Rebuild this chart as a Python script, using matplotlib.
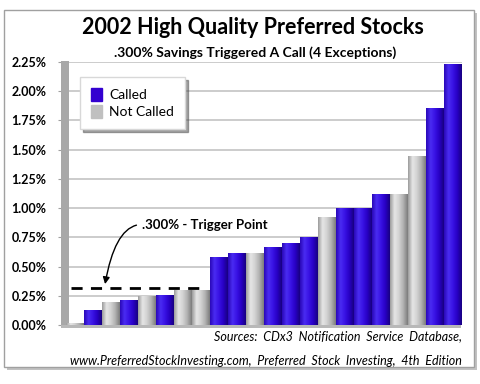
import matplotlib
matplotlib.use('Agg')
import matplotlib.pyplot as plt
import numpy as np
from matplotlib.patches import Rectangle, Patch
from matplotlib.colors import LinearSegmentedColormap

# values (percent savings), sorted as shown
savings = [0.02, 0.13, 0.20, 0.21, 0.25, 0.26, 0.30, 0.30, 0.58, 0.62, 0.62,
           0.67, 0.70, 0.75, 0.92, 1.00, 1.00, 1.12, 1.12, 1.45, 1.86, 2.23]
called = [False, True, False, True, False, True, False, False, True, True, False,
          True, True, True, False, True, True, True, False, False, True, True]
trigger = 0.32
yticks = [0.0, 0.25, 0.5, 0.75, 1.0, 1.25, 1.5, 1.75, 2.0, 2.25]

plt.rcParams['font.family'] = ['Lato', 'DejaVu Sans']

W, H = 480, 384
fig = plt.figure(figsize=(4.8, 3.84), dpi=100)
fig.patch.set_facecolor('white')

# outer frame with a soft shadow
fig.patches.append(Rectangle((7 / W, 14 / H), 470 / W, 357 / H, transform=fig.transFigure,
                             facecolor='#9a9a9a', edgecolor='none', alpha=0.6, zorder=-3))
fig.patches.append(Rectangle((4 / W, 17 / H), 470 / W, 357 / H, transform=fig.transFigure,
                             facecolor='white', edgecolor='#a0a0a0', lw=1, zorder=-2))

ax = fig.add_axes([66 / W, 59 / H, 396 / W, 263 / H])
ax.set_facecolor('none')

blue_cm = LinearSegmentedColormap.from_list('b', ['#2a08b8', '#4a2cf2', '#3812e4', '#2800c4', '#180080'])
gray_cm = LinearSegmentedColormap.from_list('g', ['#9c9c9c', '#e6e6e6', '#d2d2d2', '#b0b0b0', '#7c7c7c'])
grad = np.linspace(0, 1, 64).reshape(1, -1)

x = np.arange(len(savings))
bars = ax.bar(x, savings, width=1.0, color='none', edgecolor='none', zorder=2)
for rect, c in zip(bars, called):
    x0, w, h = rect.get_x(), rect.get_width(), rect.get_height()
    im = ax.imshow(grad, extent=[x0, x0 + w, 0, h], aspect='auto',
                   cmap=blue_cm if c else gray_cm, zorder=2, interpolation='bilinear')
    im.set_clip_path(rect)

ax.set_xlim(-0.5, len(savings) - 0.5)
ax.set_ylim(0, 2.25)

# trigger line
ax.plot([-0.2, 7.3], [trigger, trigger], color='black', lw=2, dashes=(4, 3), zorder=3)
ax.annotate('.300% - Trigger Point', xy=(1.67, 0.35), xytext=(3.72, 0.855),
            fontsize=9.5, fontweight='bold', ha='left', va='center',
            arrowprops=dict(arrowstyle='-|>', color='black', lw=1, mutation_scale=10,
                            connectionstyle='angle3,angleA=0,angleB=80',
                            relpos=(0, 0.55), shrinkA=2, shrinkB=0))

ax.set_yticks(yticks)
ax.set_yticklabels(['%.2f%%' % v for v in yticks], fontsize=9, fontweight='bold')
ax.set_xticks([])
ax.tick_params(axis='y', length=6, color='#a0a0a0', pad=8)
ax.grid(axis='y', color='#c4c4c4', lw=1.2, zorder=0)
ax.set_axisbelow(True)
for s in ax.spines.values():
    s.set_visible(False)

# left wall and floor of the 3-D look
ax.add_patch(Rectangle((-0.012, -0.01), 0.02, 1.015, transform=ax.transAxes,
                       facecolor='#a8a8a8', edgecolor='none', clip_on=False, zorder=1))
ax.add_patch(Rectangle((-0.012, -0.012), 1.01, 0.012, transform=ax.transAxes,
                       facecolor='#b8b8b8', edgecolor='none', clip_on=False, zorder=1))

leg = ax.legend(handles=[Patch(facecolor='#3300d0', edgecolor='#3300d0', label='Called'),
                         Patch(facecolor='#c0c0c0', edgecolor='#c0c0c0', label='Not Called')],
                loc='upper left', bbox_to_anchor=(0.035, 0.943), borderaxespad=0, fontsize=10,
                handlelength=0.8, handleheight=1.0, handletextpad=0.5, labelspacing=0.3,
                borderpad=0.8, fancybox=False, shadow=True, framealpha=1, edgecolor='#d8d8d8')

fig.text(253 / W, 1 - 28 / H, '2002 High Quality Preferred Stocks', ha='center', va='center',
         fontsize=15.5, fontweight='bold')
fig.text(255 / W, 1 - 53 / H, '.300% Savings Triggered A Call (4 Exceptions)', ha='center',
         va='center', fontsize=10, fontweight='bold')
fig.text(462 / W, 1 - 336 / H, 'Sources:  CDx3  Notification  Service  Database,', ha='right',
         va='center', fontsize=9, style='italic')
fig.text(462 / W, 1 - 361 / H, 'www.PreferredStockInvesting.com,  Preferred  Stock  Investing,  4th  Edition',
         ha='right', va='center', fontsize=9, style='italic')

fig.savefig('out.png', dpi=100)
